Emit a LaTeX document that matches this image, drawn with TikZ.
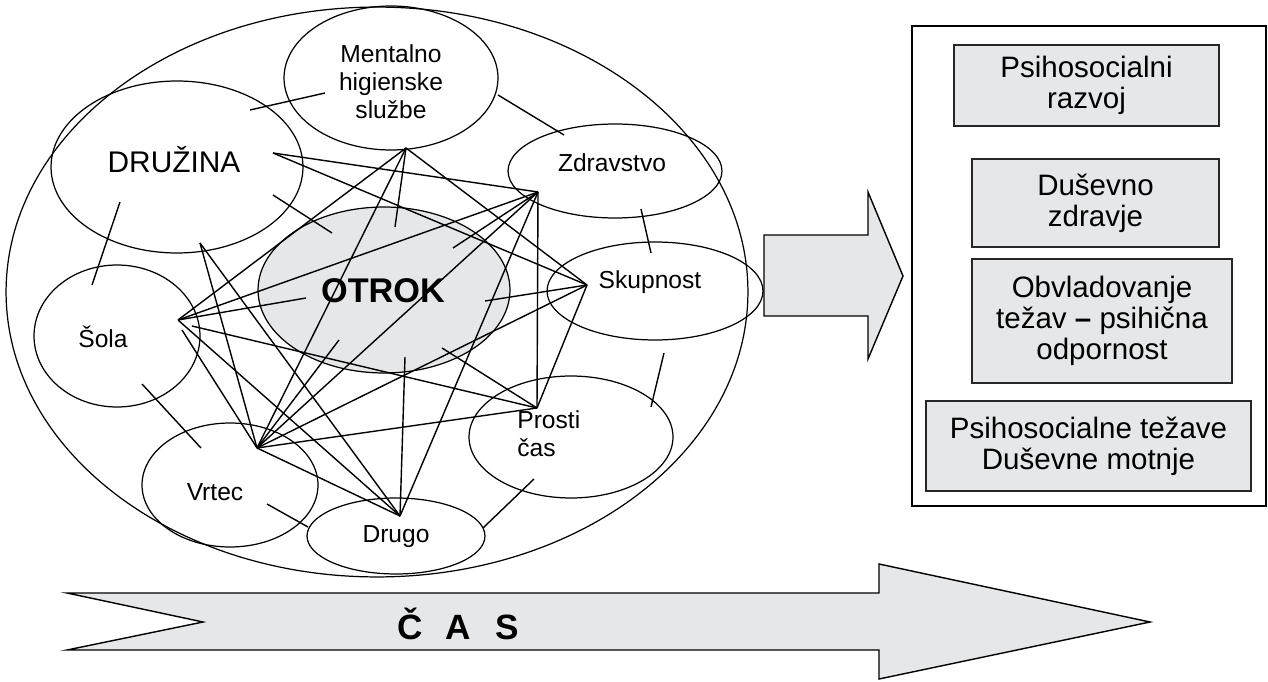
\documentclass[tikz,border=0pt]{standalone}
\usepackage{fontspec}
\setmainfont{Liberation Sans}
\usetikzlibrary{shapes.geometric}
\definecolor{fillg}{HTML}{E6E7E8}
\begin{document}
\begin{tikzpicture}[x=0.02cm, y=-0.02cm,
  ell/.style={draw, ellipse, inner sep=0pt, line width=0.7pt},
  conn/.style={line width=0.8pt},
  lbl/.style={font=\fontsize{14}{15.9}\selectfont, inner sep=0pt, align=center},
  gbox/.style={draw=black!85, fill=fillg, line width=0.7pt, inner sep=0pt, align=center, font=\fontsize{16.8}{17.6}\selectfont},
  shapeline/.style={draw=black, line width=0.8pt, fill=fillg, line join=miter}
]
\useasboundingbox (0,0) rectangle (1268,682);

% ---------- ellipses ----------
\node[ell, minimum width=14.84cm, minimum height=11.40cm] (outer) at (377,292) {};
\node[ell, fill=fillg, minimum width=5.04cm, minimum height=3.32cm] (otrok) at (384,290) {};
\node[ell, minimum width=4.28cm, minimum height=2.88cm] (ment) at (391,78) {};
\node[ell, minimum width=5.04cm, minimum height=3.44cm] (druz) at (177,167) {};
\node[ell, minimum width=4.28cm, minimum height=1.88cm] (zdr) at (615,171) {};
\node[ell, minimum width=4.32cm, minimum height=1.96cm] (skup) at (655,291) {};
\node[ell, minimum width=3.32cm, minimum height=2.84cm] (sola) at (117,336) {};
\node[ell, minimum width=3.52cm, minimum height=2.48cm] (vrtec) at (230,485) {};
\node[ell, minimum width=3.56cm, minimum height=1.52cm] (drugo) at (396,536) {};
\node[ell, minimum width=4.08cm, minimum height=2.44cm] (prosti) at (571,437) {};

% ---------- hubs ----------
\coordinate (hD1) at (273,153);
\coordinate (hD2) at (200,243);
\coordinate (hM)  at (406,148);
\coordinate (hZ)  at (538,192);
\coordinate (hS)  at (587,285);
\coordinate (hP)  at (537,408);
\coordinate (hDr) at (400,516);
\coordinate (hV)  at (257,448);
\coordinate (hS0) at (178,320);
\coordinate (hS1) at (182,330);
\coordinate (hS2) at (192,326);

% spoke ends into OTROK
\coordinate (oM) at (395,227);
\coordinate (oZ) at (453,248);
\coordinate (oS) at (485,301);
\coordinate (oP) at (442,348);
\coordinate (oDr) at (405,357);
\coordinate (oV) at (339,340);
\coordinate (oSo) at (306,298);
\coordinate (oDa) at (273,195);
\coordinate (oDb) at (332,233);

% neighbour ticks
\coordinate (a1) at (250,110); \coordinate (a2) at (325,93);
\coordinate (b1) at (498,95);  \coordinate (b2) at (564,135);
\coordinate (c1) at (641,209); \coordinate (c2) at (651,253);
\coordinate (d1) at (664,353); \coordinate (d2) at (651,407);
\coordinate (e1) at (534,479); \coordinate (e2) at (483,528);
\coordinate (f1) at (267,504); \coordinate (f2) at (308,527);
\coordinate (g1) at (142,384); \coordinate (g2) at (201,448);
\coordinate (k1) at (120,202); \coordinate (k2) at (92,285);

% ---------- connectors ----------
\draw[conn] (hD1) -- (hZ);
\draw[conn] (hD1) -- (hS);
\draw[conn] (hD2) -- (hV);
\draw[conn] (hD2) -- (hDr);
\draw[conn] (hM) -- (hS0);
\draw[conn] (hM) -- (hV);
\draw[conn] (hM) -- (hS);
\draw[conn] (hZ) -- (hS0);
\draw[conn] (hZ) -- (hV);
\draw[conn] (hZ) -- (hDr);
\draw[conn] (hZ) -- (hP);
\draw[conn] (hS) -- (hV);
\draw[conn] (hS) -- (hP);
\draw[conn] (hS2) -- (hP);
\draw[conn] (hS1) -- (hV);
\draw[conn] (hS0) -- (hDr);
\draw[conn] (hV) -- (hP);
\draw[conn] (hV) -- (hDr);

\draw[conn] (hM) -- (oM);
\draw[conn] (hZ) -- (oZ);
\draw[conn] (hS) -- (oS);
\draw[conn] (hP) -- (oP);
\draw[conn] (hDr) -- (oDr);
\draw[conn] (hV) -- (oV);
\draw[conn] (hS0) -- (oSo);
\draw[conn] (oDa) -- (oDb);

\draw[conn] (a1) -- (a2);
\draw[conn] (b1) -- (b2);
\draw[conn] (c1) -- (c2);
\draw[conn] (d1) -- (d2);
\draw[conn] (e1) -- (e2);
\draw[conn] (f1) -- (f2);
\draw[conn] (g1) -- (g2);
\draw[conn] (k1) -- (k2);

% ---------- labels ----------
\node[lbl] (tment) at (391,82) {Mentalno\\higienske\\službe};
\node[lbl, font=\fontsize{17}{20}\selectfont] (tdruz) at (174,160) {DRUŽINA};
\node[lbl] (tzdr) at (612,162.5) {Zdravstvo};
\node[lbl] (tskup) at (650,282) {Skupnost};
\node[lbl, font=\fontsize{19.5}{22}\selectfont\bfseries] (totrok) at (383,290.5) {OTROK};
\node[lbl] (tsola) at (103,337) {Šola};
\node[lbl] (tvrtec) at (215,492.5) {Vrtec};
\node[lbl] (tdrugo) at (396,537) {Drugo};
\node[lbl, align=left, anchor=west] (tprosti) at (517,433.5) {Prosti\\čas};

% ---------- middle arrow ----------
\draw[shapeline] (764,235) -- (868,235) -- (868,192) -- (903,276) -- (868,359) -- (868,316) -- (764,316) -- cycle;

% ---------- right panel ----------
\node[draw=black, line width=1pt, fill=white, minimum width=7.08cm, minimum height=9.6cm, inner sep=0pt] (panel) at (1089,266) {};
\node[gbox, minimum width=5.30cm, minimum height=1.62cm] (box1) at (1086.5,85.5) {Psihosocialni\\razvoj};
\node[gbox, minimum width=4.94cm, minimum height=1.76cm] (box2) at (1095.5,203) {Duševno\\zdravje};
\node[gbox, minimum width=5.20cm, minimum height=2.48cm] (box3) at (1102,321) {Obvladovanje\\težav \textbf{–} psihična\\odpornost};
\node[gbox, minimum width=6.50cm, minimum height=1.80cm] (box4) at (1088.5,446) {Psihosocialne težave\\Duševne motnje};

% ---------- time arrow ----------
\draw[shapeline] (67,593) -- (879,593) -- (879,564) -- (1150,622) -- (879,679) -- (879,650) -- (67,650) -- (203,622) -- cycle;
\node[inner sep=0pt, anchor=base, font=\fontsize{20}{24}\selectfont\bfseries] (cas) at (458.5,639) {Č\hspace{0.45cm}A\hspace{0.5cm}S};
\end{tikzpicture}
\end{document}
